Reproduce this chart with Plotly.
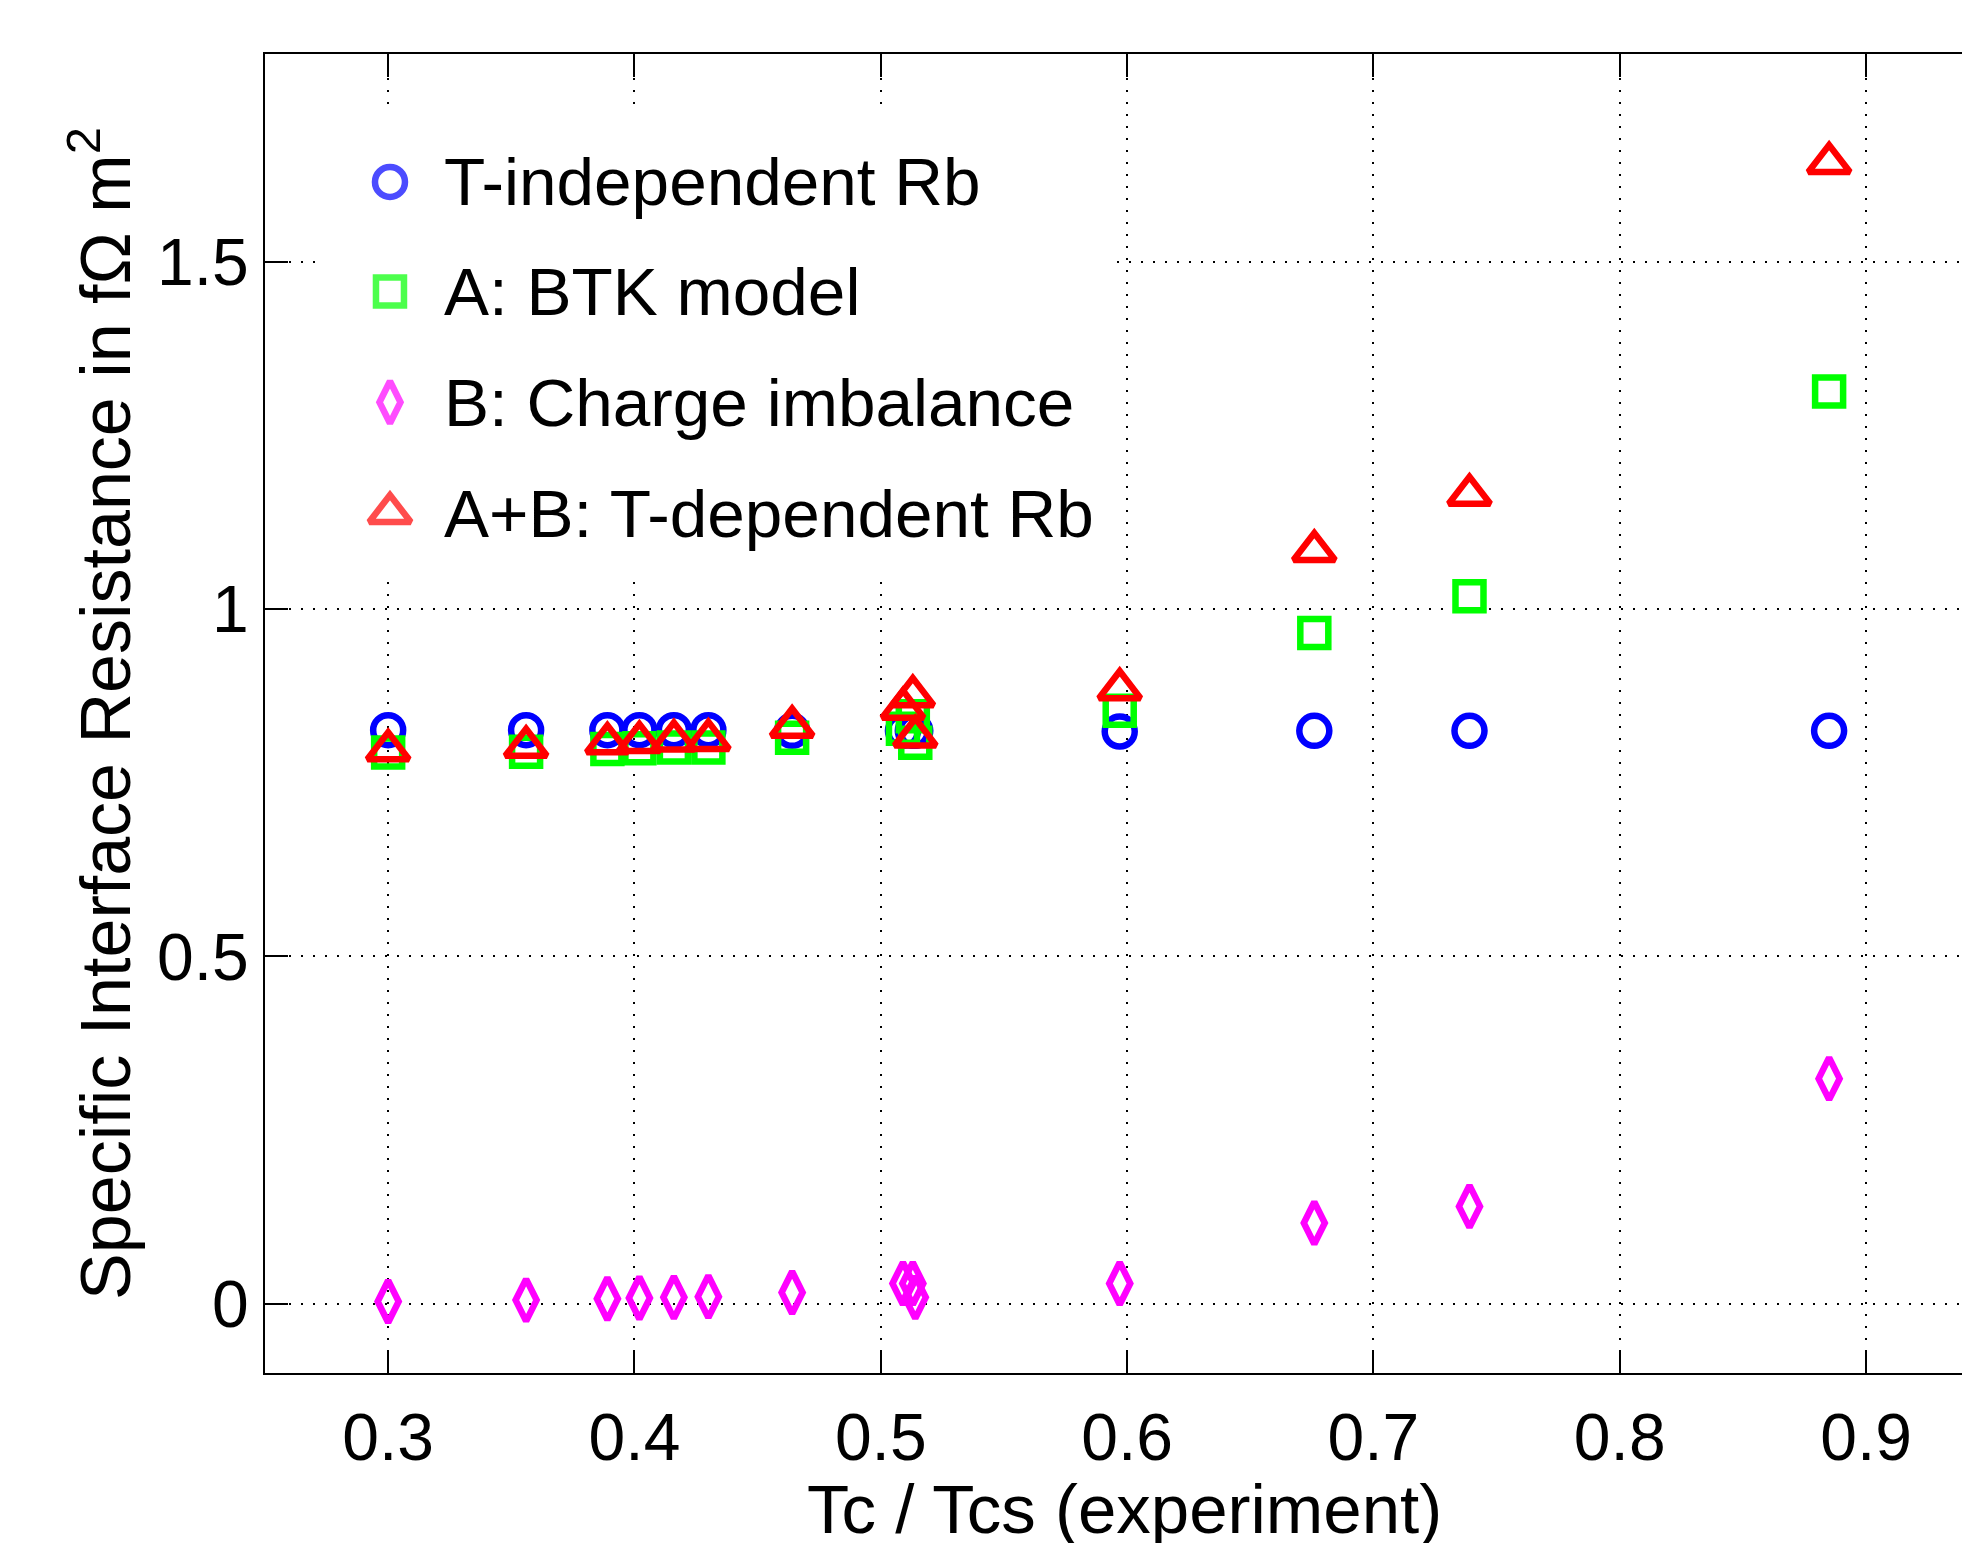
import plotly.graph_objects as go

# ---- data ----
tc_ratio = [0.300, 0.356, 0.389, 0.402, 0.416, 0.430, 0.464,
            0.509, 0.513, 0.514, 0.597, 0.676, 0.739, 0.885]
rb_const = [0.826, 0.826, 0.826, 0.826, 0.826, 0.826, 0.825,
            0.825, 0.825, 0.825, 0.824, 0.825, 0.825, 0.825]
rb_btk = [0.794, 0.795, 0.799, 0.800, 0.801, 0.801, 0.815,
          0.828, 0.846, 0.808, 0.854, 0.966, 1.019, 1.314]
rb_charge = [0.003, 0.005, 0.007, 0.008, 0.009, 0.010, 0.016,
             0.029, 0.029, 0.009, 0.029, 0.116, 0.140, 0.324]
rb_total = [0.797, 0.802, 0.807, 0.809, 0.811, 0.812, 0.831,
            0.857, 0.875, 0.817, 0.885, 1.084, 1.165, 1.643]

series_names = ["T-independent Rb", "A: BTK model",
                "B: Charge imbalance", "A+B: T-dependent Rb"]
series_colors = ["#0000FF", "#00FF00", "#FF00FF", "#FF0000"]
series_symbols = ["circle-open", "square-open", "diamond-tall-open", "triangle-up-open"]
series_sizes = [30, 28, 30, 36]
MARKER_LW = 6.5

x_ticks = [0.3, 0.4, 0.5, 0.6, 0.7, 0.8, 0.9]
x_tick_labels = ["0.3", "0.4", "0.5", "0.6", "0.7", "0.8", "0.9"]
y_ticks = [0, 0.5, 1, 1.5]
y_tick_labels = ["0", "0.5", "1", "1.5"]

x_title = "Tc / Tcs (experiment)"
y_title = "Specific Interface Resistance in fΩ m<sup>2</sup>"

FONT = "Liberation Sans, Arial, Helvetica, sans-serif"

fig = go.Figure()

# ---- legend background (overlay axes spanning the plot area, 0..1) ----
leg_box_x = [0.0346, 0.4968, 0.4968, 0.0346, 0.0346]
leg_box_y = [0.607, 0.607, 0.955, 0.955, 0.607]
fig.add_trace(go.Scatter(
    x=leg_box_x, y=leg_box_y, mode="lines", fill="toself",
    fillcolor="white", line=dict(width=0, color="white"),
    showlegend=False, hoverinfo="skip", xaxis="x2", yaxis="y2",
))

for name, vals, col, sym, sz in zip(series_names,
                                     [rb_const, rb_btk, rb_charge, rb_total],
                                     series_colors, series_symbols, series_sizes):
    fig.add_trace(go.Scatter(
        x=tc_ratio, y=vals, mode="markers", name=name, showlegend=False,
        marker=dict(symbol=sym, size=sz, color=col, line=dict(color=col, width=MARKER_LW)),
    ))

# ---- manual legend (large symbols as in the reference) ----
leg_x = 0.0733
leg_rows = [0.903, 0.820, 0.736, 0.652]
fig.add_trace(go.Scatter(
    x=[leg_x] * 4, y=leg_rows, mode="markers", showlegend=False, hoverinfo="skip",
    xaxis="x2", yaxis="y2",
    marker=dict(symbol=series_symbols, size=series_sizes, color=series_colors,
                line=dict(color=series_colors, width=MARKER_LW)),
))
for name, yy in zip(series_names, leg_rows):
    fig.add_annotation(x=0.1038, y=yy, xref="x domain", yref="y domain",
                       text=name, showarrow=False, xanchor="left", yanchor="middle",
                       font=dict(family=FONT, size=67.5, color="black"))

# x-axis title
fig.add_annotation(x=0.504, y=-0.1035, xref="paper", yref="paper",
                   text=x_title, showarrow=False, xanchor="center", yanchor="middle",
                   font=dict(family=FONT, size=69, color="black"))

axis_common = dict(
    showline=True, linecolor="black", linewidth=2,
    ticks="inside", ticklen=23, tickwidth=2, tickcolor="black",
    showgrid=True, gridcolor="black", gridwidth=1.6, griddash="2px,10px",
    zeroline=False, automargin=False,
    tickfont=dict(family=FONT, size=66, color="black"),
)

fig.update_layout(
    width=1962, height=1535,
    margin=dict(l=257, r=0, t=46, b=170),
    paper_bgcolor="white", plot_bgcolor="white",
    font=dict(family=FONT, color="black"),
    xaxis=dict(
        range=[0.25, 0.9422], tickvals=x_ticks, ticktext=x_tick_labels,
        mirror="ticks", ticklabelstandoff=6,
        **axis_common,
    ),
    yaxis=dict(
        range=[-0.1, 1.8], tickvals=y_ticks, ticktext=y_tick_labels,
        mirror=False, ticklabelstandoff=1,
        title=dict(text=y_title, standoff=4,
                   font=dict(family=FONT, size=70, color="black")),
        **axis_common,
    ),
    xaxis2=dict(overlaying="x", range=[0, 1], visible=False),
    yaxis2=dict(overlaying="y", range=[0, 1], visible=False),
)

fig.write_html("out.html")
